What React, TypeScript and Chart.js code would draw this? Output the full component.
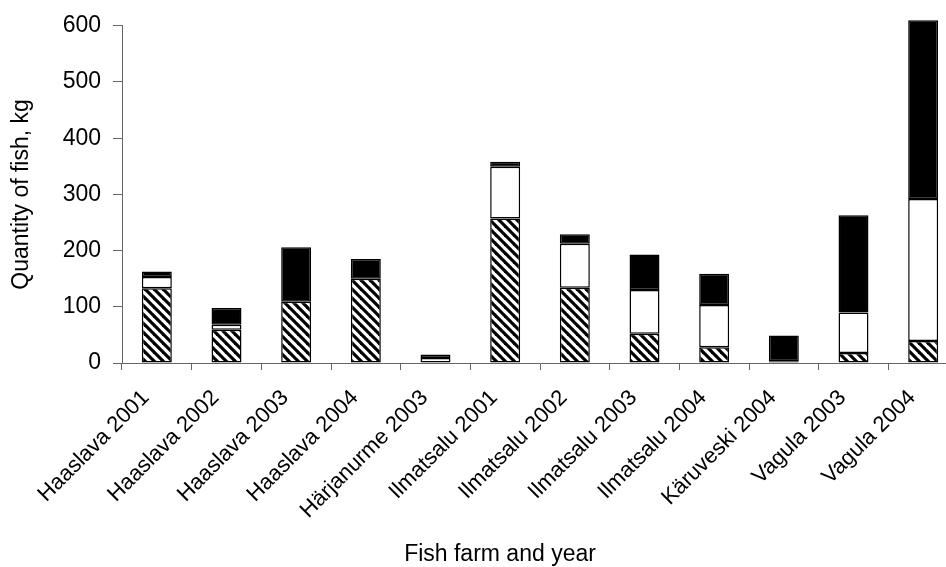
import React, { useEffect, useRef } from "react";
import { Chart, registerables } from "chart.js";

Chart.register(...registerables);

const categories = [
  "Haaslava 2001",
  "Haaslava 2002",
  "Haaslava 2003",
  "Haaslava 2004",
  "Härjanurme 2003",
  "Ilmatsalu 2001",
  "Ilmatsalu 2002",
  "Ilmatsalu 2003",
  "Ilmatsalu 2004",
  "Käruveski 2004",
  "Vagula 2003",
  "Vagula 2004",
];

const hatchedValues = [133, 59, 109, 150, 0, 257, 134, 52, 28, 0, 18, 39];
const whiteValues = [20, 9, 0, 0, 9, 92, 78, 78, 75, 3, 72, 253];
const blackValues = [10, 30, 97, 35, 6, 9, 17, 63, 56, 46, 173, 318];

const yTicks = [0, 100, 200, 300, 400, 500, 600];

const yTitle = "Quantity of fish, kg";
const xTitle = "Fish farm and year";

const FONT = "'Liberation Sans', Arial, sans-serif";
const FONT_SIZE = 23;
const XLABEL_SIZE = 22;

function makeHatch(): CanvasPattern | string {
  const s = 9;
  const c = document.createElement("canvas");
  c.width = s;
  c.height = s;
  const ctx = c.getContext("2d");
  if (!ctx) return "#888";
  ctx.fillStyle = "#fff";
  ctx.fillRect(0, 0, s, s);
  ctx.strokeStyle = "#000";
  ctx.lineWidth = 3.2;
  for (const cc of [-s, 0, s]) {
    ctx.beginPath();
    ctx.moveTo(-2, -2 + cc);
    ctx.lineTo(s + 2, s + 2 + cc);
    ctx.stroke();
  }
  const p = ctx.createPattern(c, "repeat");
  return p || "#888";
}

const nz = (arr: number[]) => arr.map((v) => (v === 0 ? null : v));

export default function App() {
  const ref = useRef<HTMLCanvasElement>(null);

  useEffect(() => {
    if (!ref.current) return;
    const hatch = makeHatch();

    const xTitlePlugin = {
      id: "xTitlePlugin",
      afterDraw(chart: any) {
        const ctx = chart.ctx;
        ctx.save();
        ctx.font = `${FONT_SIZE}px ${FONT}`;
        ctx.fillStyle = "#000";
        ctx.textAlign = "center";
        ctx.textBaseline = "alphabetic";
        ctx.fillText(xTitle, 500, 561);
        ctx.restore();
      },
    };

    const common = {
      borderColor: "#000",
      borderWidth: 1.5,
      borderSkipped: false as const,
      barPercentage: 0.43,
      categoryPercentage: 1,
      clip: false as const,
    };

    const chart = new Chart(ref.current, {
      type: "bar",
      data: {
        labels: categories,
        datasets: [
          { label: "hatched", data: nz(hatchedValues) as any, backgroundColor: hatch as any, ...common },
          { label: "white", data: nz(whiteValues) as any, backgroundColor: "#fff", ...common },
          { label: "black", data: nz(blackValues) as any, backgroundColor: "#000", ...common },
        ],
      },
      options: {
        responsive: false,
        animation: false,
        layout: { padding: { top: 23, right: 4, bottom: 0, left: 0 } },
        plugins: {
          legend: { display: false },
          tooltip: { enabled: false },
          title: { display: false },
        },
        scales: {
          x: {
            stacked: true,
            afterFit: (scale: any) => {
              scale.height = 204;
            },
            grid: {
              display: true,
              drawOnChartArea: false,
              drawTicks: true,
              tickLength: 7,
              color: "#666",
              offset: true,
            },
            border: { display: true, color: "#666", width: 1 },
            ticks: {
              autoSkip: false,
              maxRotation: 45,
              minRotation: 45,
              padding: 15,
              labelOffset: -11,
              color: "#000",
              font: { family: FONT, size: XLABEL_SIZE },
            },
          },
          y: {
            stacked: true,
            min: 0,
            max: 600,
            afterFit: (scale: any) => {
              scale.width = 122;
            },
            afterBuildTicks: (scale: any) => {
              scale.ticks = yTicks.map((v) => ({ value: v }));
            },
            grid: {
              display: true,
              drawOnChartArea: false,
              drawTicks: true,
              tickLength: 9,
              color: "#666",
            },
            border: { display: true, color: "#666", width: 1 },
            ticks: {
              padding: 12,
              color: "#000",
              font: { family: FONT, size: FONT_SIZE },
            },
            title: {
              display: true,
              text: yTitle,
              color: "#000",
              font: { family: FONT, size: FONT_SIZE },
              padding: { top: 8, bottom: 0 },
            },
          },
        },
      },
      plugins: [xTitlePlugin],
    });

    return () => chart.destroy();
  }, []);

  return (
    <div
      style={{
        position: "fixed",
        left: 0,
        top: 0,
        width: 946,
        height: 567,
        overflow: "hidden",
        background: "#fff",
      }}
    >
      <canvas ref={ref} width={962} height={567} style={{ display: "block" }} />
    </div>
  );
}
